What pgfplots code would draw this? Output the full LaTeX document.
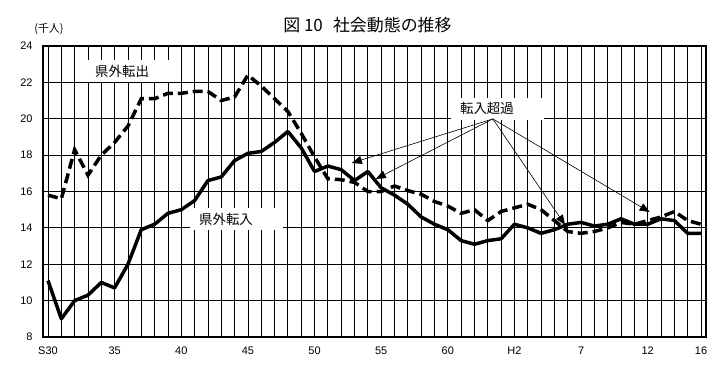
\documentclass[border=0pt]{standalone}
\usepackage{fontspec}
\setmainfont{Liberation Sans}
\newfontfamily\jp{Noto Sans CJK JP}
\usepackage{pgfplots}
\pgfplotsset{compat=1.18}
\usetikzlibrary{arrows.meta}
\begin{document}
\begin{tikzpicture}[x=1bp,y=1bp]
\useasboundingbox (-43,-30) rectangle (675,337);
\begin{axis}[
  at={(0,0)}, anchor=south west,
  scale only axis, width=663bp, height=291bp,
  xmin=-0.375, xmax=49.375, ymin=8, ymax=24,
  xtick={0,5,10,15,20,25,30,35,40,45,49},
  xticklabels={S30,35,40,45,50,55,60,H2,7,12,16},
  minor xtick={0,...,49},
  ytick={8,10,...,24},
  grid=both,
  major grid style={black, line width=0.8bp},
  minor grid style={black, line width=0.8bp},
  axis line style={line width=2.8bp},
  tick style={draw=none},
  clip=false,
  ticklabel style={font=\fontsize{11}{13}\selectfont},
  xticklabel style={yshift=-6bp},
  yticklabel style={xshift=-7bp},
  /pgf/number format/assume math mode=true,
]
% 県外転入 (solid)
\addplot[black, line width=3.5bp, line join=round] coordinates {
(0,11.1)(1,9.0)(2,10.0)(3,10.3)(4,11.0)(5,10.7)(6,12.0)(7,13.9)(8,14.2)(9,14.8)
(10,15.0)(11,15.5)(12,16.6)(13,16.8)(14,17.7)(15,18.1)(16,18.2)(17,18.7)(18,19.3)(19,18.4)
(20,17.1)(21,17.4)(22,17.2)(23,16.6)(24,17.1)(25,16.2)(26,15.8)(27,15.3)(28,14.6)(29,14.2)
(30,13.9)(31,13.3)(32,13.1)(33,13.3)(34,13.4)(35,14.2)(36,14.0)(37,13.7)(38,13.9)(39,14.2)
(40,14.3)(41,14.1)(42,14.2)(43,14.5)(44,14.2)(45,14.2)(46,14.5)(47,14.4)(48,13.7)(49,13.7)
};
% 県外転出 (dashed)
\addplot[black, line width=3.5bp, dash pattern=on 10bp off 5bp] coordinates {
(0,15.8)(1,15.6)(2,18.3)(3,16.9)(4,18.0)(5,18.7)(6,19.6)(7,21.1)(8,21.1)(9,21.4)
(10,21.4)(11,21.5)(12,21.5)(13,21.0)(14,21.2)(15,22.4)(16,21.8)(17,21.1)(18,20.4)(19,19.2)
(20,17.9)(21,16.7)(22,16.65)(23,16.5)(24,16.0)(25,16.0)(26,16.3)(27,16.05)(28,15.85)(29,15.45)
(30,15.2)(31,14.8)(32,15.0)(33,14.4)(34,14.9)(35,15.1)(36,15.3)(37,15.0)(38,14.4)(39,13.8)
(40,13.7)(41,13.8)(42,14.0)(43,14.3)(44,14.2)(45,14.4)(46,14.6)(47,14.9)(48,14.4)(49,14.2)
};
\node[fill=white, inner sep=0pt, minimum height=22bp, anchor=west, font=\jp\fontsize{13.5}{16}\selectfont] at (axis cs:2.85,22.6) {\hspace*{9bp}県外転出\hspace*{30bp}};
\node[fill=white, inner sep=0pt, minimum height=22bp, anchor=west, font=\jp\fontsize{13.5}{16}\selectfont] at (axis cs:10.65,14.49) {\hspace*{9bp}県外転入\hspace*{30bp}};
\node[fill=white, inner sep=0pt, minimum height=22bp, anchor=west, font=\jp\fontsize{13.5}{16}\selectfont] at (axis cs:30.23,20.56) {\hspace*{9bp}転入超過\hspace*{30bp}};
\draw[-{Triangle[length=10bp,width=8bp]}, line width=0.6bp] (axis cs:33.38,19.99) -- (axis cs:22.8,17.57);
\draw[-{Triangle[length=10bp,width=8bp]}, line width=0.6bp] (axis cs:33.38,19.99) -- (axis cs:24.6,16.69);
\draw[-{Triangle[length=10bp,width=8bp]}, line width=0.6bp] (axis cs:33.38,19.99) -- (axis cs:38.8,14.16);
\draw[-{Triangle[length=10bp,width=8bp]}, line width=0.6bp] (axis cs:33.38,19.99) -- (axis cs:45.15,14.87);
\node[font=\jp\fontsize{17}{20}\selectfont] at (rel axis cs:0.4894,1.072) {図 10\hspace{0.6em}社会動態の推移};
\node[font=\jp\fontsize{11}{13}\selectfont] at (rel axis cs:0.009,1.058) {(千人)};
\end{axis}
\end{tikzpicture}
\end{document}
